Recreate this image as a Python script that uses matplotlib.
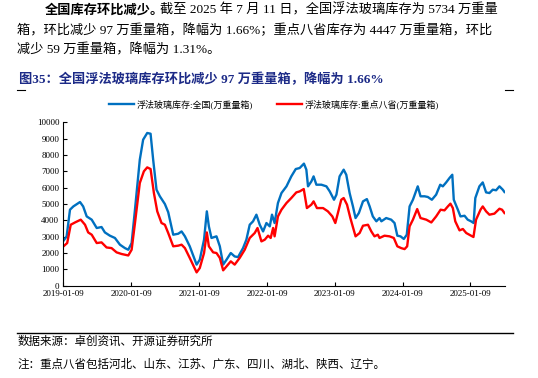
import numpy as np
import pandas as pd
import matplotlib
matplotlib.use("Agg")
import matplotlib.pyplot as plt
import matplotlib.dates as mdates
from matplotlib.lines import Line2D

plt.rcParams['font.family'] = ['Liberation Serif', 'Noto Sans CJK SC', 'DejaVu Sans']
plt.rcParams['axes.unicode_minus'] = False

# 全国 (万重量箱)
dates_all = ["2019-01-09", "2019-01-26", "2019-02-13", "2019-03-03", "2019-04-08", "2019-04-25",
             "2019-05-14", "2019-06-10", "2019-07-07", "2019-08-02", "2019-08-20", "2019-09-16",
             "2019-10-13", "2019-11-09", "2019-12-06", "2019-12-24", "2020-01-11", "2020-01-29",
             "2020-02-24", "2020-03-13", "2020-04-04", "2020-04-22", "2020-05-06", "2020-05-24",
             "2020-06-11", "2020-07-08", "2020-07-26", "2020-08-22", "2020-09-18", "2020-10-06",
             "2020-10-24", "2020-11-19", "2020-12-26", "2021-01-12", "2021-02-04", "2021-02-19",
             "2021-03-02", "2021-03-16", "2021-04-12", "2021-04-30", "2021-05-18", "2021-06-05",
             "2021-06-28", "2021-07-19", "2021-08-06", "2021-09-02", "2021-09-20", "2021-10-08",
             "2021-10-26", "2021-11-13", "2021-12-01", "2021-12-19", "2022-01-06", "2022-01-24",
             "2022-02-05", "2022-02-19", "2022-03-09", "2022-03-28", "2022-04-24", "2022-05-20",
             "2022-06-13", "2022-07-04", "2022-07-27", "2022-08-09", "2022-08-18", "2022-09-05",
             "2022-09-17", "2022-10-02", "2022-10-29", "2022-11-25", "2022-12-13", "2023-01-05",
             "2023-01-18", "2023-02-04", "2023-02-26", "2023-03-12", "2023-03-30", "2023-04-17",
             "2023-05-01", "2023-05-19", "2023-06-10", "2023-07-01", "2023-07-16", "2023-08-02",
             "2023-08-21", "2023-09-07", "2023-09-17", "2023-10-13", "2023-11-09", "2023-11-27",
             "2023-12-12", "2023-12-29", "2024-01-16", "2024-02-01", "2024-02-16", "2024-03-05",
             "2024-03-31", "2024-04-15", "2024-05-07", "2024-05-24", "2024-06-15", "2024-07-08",
             "2024-07-30", "2024-08-13", "2024-08-31", "2024-09-18", "2024-10-03", "2024-10-11",
             "2024-11-02", "2024-11-16", "2024-12-08", "2024-12-25", "2025-01-12", "2025-01-26",
             "2025-02-04", "2025-02-26", "2025-03-16", "2025-04-03", "2025-04-21", "2025-05-09",
             "2025-05-27", "2025-06-14", "2025-07-02", "2025-07-11"]
stock_all = [2750, 3020, 4650, 4850, 5120, 4850,
             4240, 4040, 3530, 3590, 3260, 3060,
             2920, 2510, 2300, 2200, 2610, 4650,
             7710, 8935, 9345, 9300, 7710, 5875,
             5470, 5000, 4500, 3120, 3180, 3320,
             3020, 2410, 1290, 1590, 2815, 4550,
             3630, 2920, 3020, 2410, 1290, 1590,
             2000, 1790, 1750, 2300, 2815, 3730,
             3940, 4345, 3730, 3320, 3835, 3630,
             4345, 3835, 5060, 5670, 6080, 6690,
             7140, 7200, 7470, 7100, 6080, 6380,
             6690, 6180, 6180, 6080, 5770, 5260,
             5570, 6690, 7100, 6790, 5670, 4850,
             4140, 4450, 5160, 5300, 4850, 4240,
             3940, 4140, 3940, 4140, 4040, 3835,
             3060, 3020, 2860, 3120, 4850, 5260,
             6080, 5470, 5470, 5430, 5260, 5570,
             6180, 6080, 6320, 6590, 6790, 5260,
             4650, 4240, 4280, 4040, 3940, 3835,
             5365, 6080, 6320, 5710, 5670, 5875,
             5840, 6080, 5875, 5734]

# 重点八省 (万重量箱)
dates_8 = ["2019-01-09", "2019-01-29", "2019-02-17", "2019-03-12", "2019-04-12", "2019-05-05",
           "2019-05-22", "2019-06-10", "2019-07-07", "2019-08-02", "2019-08-29", "2019-09-25",
           "2019-10-22", "2019-11-18", "2019-12-24", "2020-01-11", "2020-01-29", "2020-02-24",
           "2020-03-17", "2020-04-04", "2020-04-22", "2020-05-10", "2020-05-28", "2020-06-20",
           "2020-07-08", "2020-07-26", "2020-08-22", "2020-09-18", "2020-10-06", "2020-10-24",
           "2020-11-19", "2020-12-26", "2021-01-12", "2021-02-04", "2021-02-19", "2021-03-02",
           "2021-03-25", "2021-04-12", "2021-04-30", "2021-05-18", "2021-06-05", "2021-06-28",
           "2021-07-19", "2021-08-15", "2021-09-11", "2021-10-08", "2021-11-04", "2021-11-19",
           "2021-12-10", "2021-12-28", "2022-01-15", "2022-01-29", "2022-02-11", "2022-02-19",
           "2022-03-09", "2022-03-28", "2022-04-24", "2022-05-20", "2022-06-16", "2022-07-04",
           "2022-07-26", "2022-08-12", "2022-09-05", "2022-09-17", "2022-10-05", "2022-11-07",
           "2022-12-03", "2022-12-27", "2023-01-12", "2023-01-26", "2023-02-13", "2023-02-26",
           "2023-03-16", "2023-04-03", "2023-05-01", "2023-05-23", "2023-06-10", "2023-07-07",
           "2023-07-25", "2023-08-11", "2023-08-29", "2023-09-07", "2023-10-04", "2023-10-31",
           "2023-11-23", "2023-12-12", "2024-01-02", "2024-01-20", "2024-02-03", "2024-02-16",
           "2024-03-05", "2024-03-28", "2024-04-15", "2024-05-16", "2024-06-12", "2024-07-08",
           "2024-08-01", "2024-08-22", "2024-09-09", "2024-09-23", "2024-10-06", "2024-10-19",
           "2024-11-11", "2024-11-29", "2024-12-17", "2025-01-12", "2025-01-25", "2025-02-08",
           "2025-03-04", "2025-03-16", "2025-04-03", "2025-04-21", "2025-05-18", "2025-06-14",
           "2025-06-28", "2025-07-11"]
stock_8 = [2410, 2610, 3730, 3870, 4040, 3730,
           3260, 3120, 2610, 2650, 2340, 2300,
           2040, 1940, 1850, 2200, 3835, 6285,
           7000, 7240, 7140, 5670, 4550, 3835,
           3730, 3225, 2410, 2450, 2510, 2300,
           1700, 815, 1080, 2000, 3260, 2410,
           2040, 2000, 1700, 940, 1180, 1490,
           1290, 1700, 2200, 2920, 3225, 3530,
           2710, 2815, 3060, 2920, 3530, 3020,
           4240, 4650, 5060, 5365, 5710, 5770,
           5915, 4750, 4960, 5160, 4750, 4750,
           4550, 4240, 3835, 4450, 5260, 5365,
           4960, 4140, 3020, 3225, 3670, 3730,
           3320, 3020, 3120, 2920, 3060, 3020,
           2920, 2410, 2300, 2240, 2410, 3630,
           4040, 4690, 4140, 4040, 3870, 4240,
           4650, 4610, 4850, 5020, 4750, 3940,
           3385, 3470, 3225, 3060, 2980, 4040,
           4650, 4850, 4550, 4345, 4410, 4710,
           4650, 4447]

tick_dates = ["2019-01-09", "2020-01-09", "2021-01-09", "2022-01-09",
              "2023-01-09", "2024-01-09", "2025-01-09"]

label_all = "浮法玻璃库存:全国(万重量箱)"
label_8 = "浮法玻璃库存:重点八省(万重量箱)"

fig = plt.figure(figsize=(5.38, 3.78), dpi=100)
ax = fig.add_axes([0.118, 0.2442, 0.8207, 0.4323])

ax.plot(pd.to_datetime(dates_all), stock_all, color="#0070C0", lw=1.7, label=label_all)
ax.plot(pd.to_datetime(dates_8), stock_8, color="#FF0000", lw=1.7, label=label_8)

ax.set_ylim(0, 10000)
ax.set_yticks(np.arange(0, 10001, 1000))
ax.set_xlim(pd.Timestamp("2019-01-09"), pd.Timestamp("2025-07-14"))
ax.set_xticks(pd.to_datetime(tick_dates))
ax.xaxis.set_major_formatter(mdates.DateFormatter("%Y-%m-%d"))
ax.tick_params(direction="in", length=3, width=0.8, labelsize=6.5, pad=3)
for s in ["top", "right"]:
    ax.spines[s].set_visible(False)
for s in ["left", "bottom"]:
    ax.spines[s].set_linewidth(0.8)

fig.legend(loc="center", bbox_to_anchor=(0.509, 0.725), ncol=2, frameon=False,
           fontsize=6.5, handlelength=2.8, columnspacing=2.6, handletextpad=0.3)

# paragraph above the chart
fs = 9.5
t1 = fig.text(45 / 538, 1 - 10 / 378, "全国库存环比减少。", fontsize=fs, fontweight="bold", va="center")
ax.annotate("截至 2025 年 7 月 11 日，全国浮法玻璃库存为 5734 万重量",
            xy=(1, 0.5), xycoords=t1, xytext=(-3, 0), textcoords="offset points",
            fontsize=fs, va="center", ha="left", annotation_clip=False)
fig.text(17 / 538, 1 - 30 / 378,
         "箱，环比减少 97 万重量箱，降幅为 1.66%；重点八省库存为 4447 万重量箱，环比",
         fontsize=fs, va="center")
fig.text(17 / 538, 1 - 50 / 378, "减少 59 万重量箱，降幅为 1.31%。", fontsize=fs, va="center")

fig.text(19 / 538, 1 - 80 / 378, "图35：全国浮法玻璃库存环比减少 97 万重量箱，降幅为 1.66%",
         fontsize=9.5, fontweight="bold", color="#1c2a87", va="center")
fig.add_artist(Line2D([17 / 538, 25 / 538], [1 - 90 / 378] * 2, color="black", lw=0.8))
fig.add_artist(Line2D([505 / 538, 513 / 538], [1 - 90 / 378] * 2, color="black", lw=0.8))

# source / notes
fig.add_artist(Line2D([17 / 538, 513 / 538], [1 - 333 / 378] * 2, color="black", lw=1.0))
fig.text(18 / 538, 1 - 342 / 378, "数据来源：卓创资讯、开源证券研究所", fontsize=8.3, va="center")
fig.text(18 / 538, 1 - 365 / 378,
         "注：重点八省包括河北、山东、江苏、广东、四川、湖北、陕西、辽宁。", fontsize=8.3, va="center")

fig.savefig("out.png", dpi=100)
